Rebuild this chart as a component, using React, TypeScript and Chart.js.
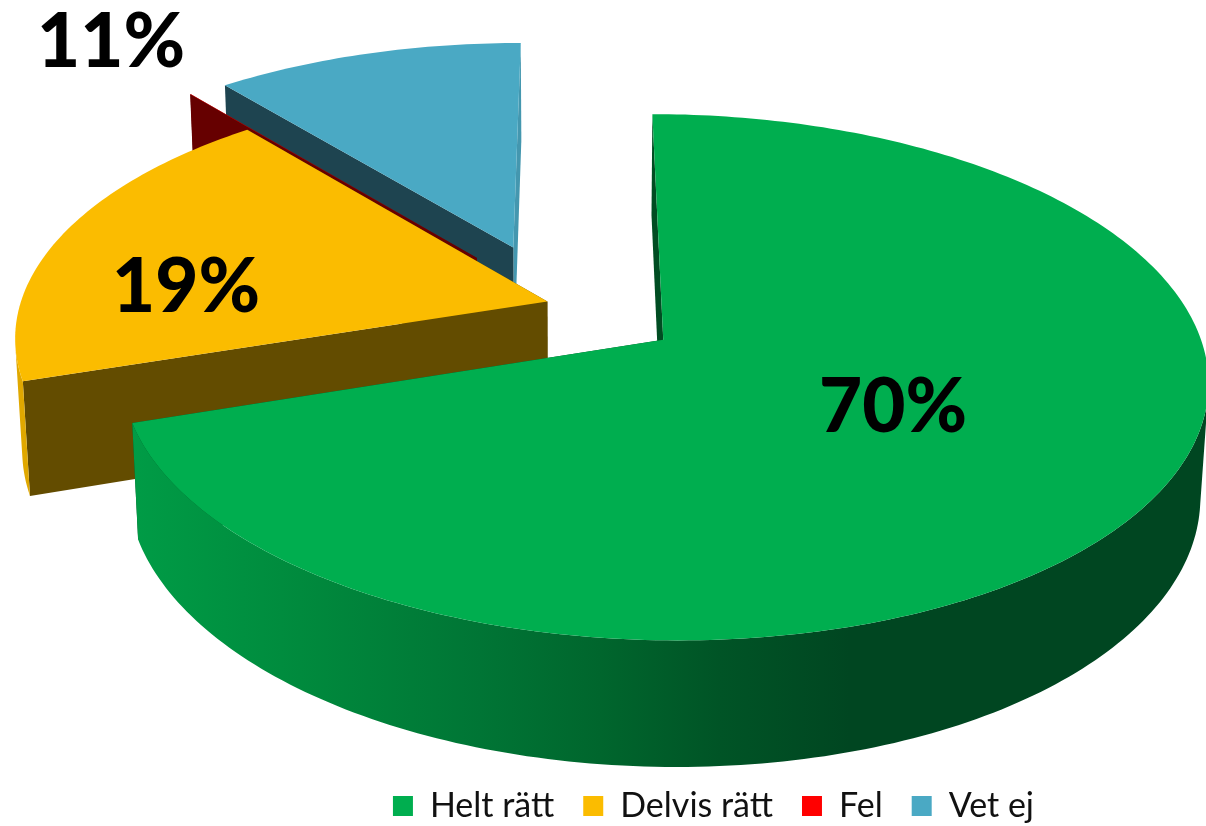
import React, { useEffect, useRef } from "react";
import { Chart, registerables } from "chart.js";

Chart.register(...registerables);

const categories = ["Helt rätt", "Delvis rätt", "Fel", "Vet ej"];
const shares = [70, 19, 0.01, 10.99];
const explosion = [25, 1.5, 24, 24.5];

const topColors = ["#00AE4F", "#FBBC00", "#FF0000", "#4AA9C4"];
const startWallColors = ["#004D22", "#634C00", "#660000", "#1E4450"];
const endWallColors = ["#004D22", "#634C00", "#660000", "#4497AF"];
const greenRimStops: [number, string][] = [
  [130, "#009C46"],
  [300, "#008A3D"],
  [480, "#007535"],
  [600, "#00662D"],
  [720, "#005426"],
  [850, "#004621"],
  [1206, "#004621"],
];
const rimStops: [number, string][][] = [
  greenRimStops,
  [[0, "#E0A800"], [1206, "#E0A800"]],
  [[0, "#990000"], [1206, "#990000"]],
  [[0, "#4497AF"], [1206, "#4497AF"]],
];
const labelAnchors: ([number, number] | null)[] = [[893, 432], [186, 312], null, [111, 67]];

// Perspective camera of the 3D pie
const cam = { x0: 576, y0: 340.5, A: 538, B: 258, k: 0.1428, m: 0.0128, D: 114, cx: -0.04, cy: 0.15 };

function project(X: number, Y: number, d: number): [number, number] {
  const w = 1 + cam.k * Y + cam.m * d;
  return [cam.x0 + (cam.A * X) / w, cam.y0 - (cam.B * Y - cam.D * d) / w];
}

const pie3d = {
  id: "pie3d",
  beforeDatasetsDraw(chart: any) {
    const ctx: CanvasRenderingContext2D = chart.ctx;
    const meta = chart.getDatasetMeta(0);
    const order = [3, 2, 1, 0];
    const path = (pts: [number, number][]) => {
      ctx.beginPath();
      pts.forEach((p, i) => (i ? ctx.lineTo(p[0], p[1]) : ctx.moveTo(p[0], p[1])));
      ctx.closePath();
    };
    ctx.save();
    for (const i of order) {
      const arc = meta.data[i];
      const a0: number = arc.startAngle;
      const a1: number = arc.endAngle;
      const mid = (a0 + a1) / 2;
      const t = (arc.options.offset || 0) / 100;
      const ox = cam.cx + t * Math.cos(mid);
      const oy = cam.cy - t * Math.sin(mid);
      const n = Math.max(4, Math.ceil(((a1 - a0) / (2 * Math.PI)) * 360));
      const rim = (d: number) => {
        const pts: [number, number][] = [];
        for (let s = 0; s <= n; s++) {
          const a = a0 + ((a1 - a0) * s) / n;
          pts.push(project(ox + Math.cos(a), oy - Math.sin(a), d));
        }
        return pts;
      };
      const top = rim(0);
      const bottom = rim(1);
      const apexTop = project(ox, oy, 0);
      const apexBottom = project(ox, oy, 1);

      // radial walls
      ctx.fillStyle = endWallColors[i];
      path([apexTop, top[n], bottom[n], apexBottom]);
      ctx.fill();
      ctx.fillStyle = startWallColors[i];
      path([apexTop, top[0], bottom[0], apexBottom]);
      ctx.fill();

      // outer rim wall: only the segments that face the viewer
      const g = ctx.createLinearGradient(0, 0, 1206, 0);
      rimStops[i].forEach(([x, c]) => g.addColorStop(x / 1206, c));
      ctx.fillStyle = g;
      ctx.beginPath();
      for (let s = 0; s < n; s++) {
        const q = [top[s], top[s + 1], bottom[s + 1], bottom[s]];
        let area = 0;
        for (let j = 0; j < 4; j++) {
          const p = q[j];
          const r = q[(j + 1) % 4];
          area += p[0] * r[1] - r[0] * p[1];
        }
        if (area < 0) {
          ctx.moveTo(q[0][0], q[0][1]);
          ctx.lineTo(q[1][0], q[1][1]);
          ctx.lineTo(q[2][0], q[2][1]);
          ctx.lineTo(q[3][0], q[3][1]);
          ctx.closePath();
        }
      }
      ctx.fill();

      // top face
      ctx.fillStyle = arc.options.backgroundColor;
      path([apexTop, ...top]);
      ctx.fill();
    }
    ctx.fillStyle = "#000";
    ctx.textAlign = "center";
    ctx.textBaseline = "alphabetic";
    ctx.font = "900 76px Lato";
    shares.forEach((v, i) => {
      const anchor = labelAnchors[i];
      if (!anchor) return;
      ctx.save();
      ctx.translate(anchor[0], anchor[1]);
      ctx.scale(0.98, 1);
      ctx.fillText(`${Math.round(v)}%`, 0, 0);
      ctx.restore();
    });
    ctx.restore();
    return false;
  },
};

export default function App() {
  const ref = useRef<HTMLCanvasElement>(null);
  useEffect(() => {
    const chart = new Chart(ref.current!, {
      type: "pie",
      data: {
        labels: categories,
        datasets: [
          {
            data: shares,
            backgroundColor: topColors,
            borderWidth: 0,
            offset: explosion,
          },
        ],
      },
      options: {
        responsive: false,
        animation: false,
        layout: { padding: { right: 143, bottom: -7 } },
        plugins: {
          tooltip: { enabled: false },
          legend: {
            position: "bottom",
            align: "end",
            labels: {
              boxWidth: 20,
              boxHeight: 20,
              padding: 29,
              color: "#111",
              font: { family: "Lato", size: 34 },
            },
          },
        },
      },
      plugins: [pie3d],
    } as any);
    return () => chart.destroy();
  }, []);
  return (
    <div style={{ position: "fixed", left: 0, top: 0, width: 1206, height: 826, background: "#fff" }}>
      <canvas ref={ref} width={1206} height={826} style={{ display: "block" }} />
    </div>
  );
}
